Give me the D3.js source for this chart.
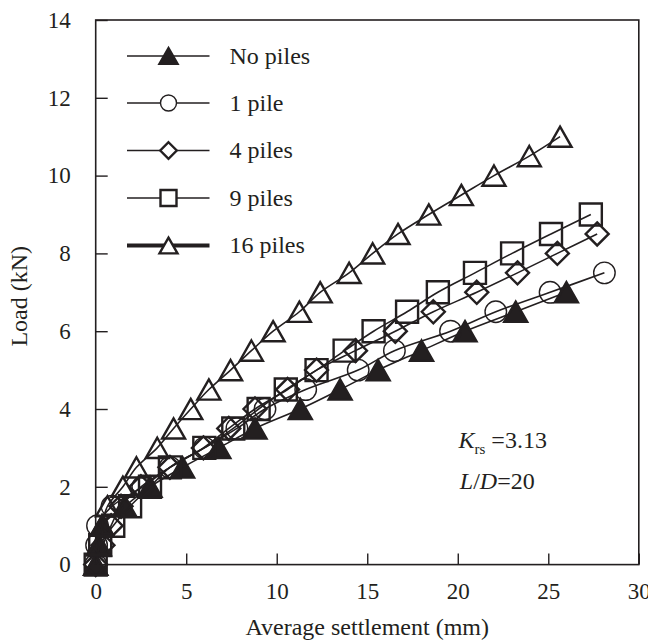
<!DOCTYPE html>
<html>
<head>
<meta charset="utf-8">
<script src="https://cdn.jsdelivr.net/npm/d3@7"></script>
<style>
  html, body { margin: 0; padding: 0; background: #fff; }
  svg { display: block; }
  text { font-family: "Liberation Serif", "Times New Roman", serif; fill: #231f20; }
</style>
</head>
<body>
<svg id="chart" width="648" height="640"></svg>
<script>
// Load–settlement measurements (load in kN, average settlement in mm)
const loadNoPiles = [0, 0.5, 1, 1.5, 2, 2.5, 3, 3.5, 4, 4.5, 5, 5.5, 6, 6.5, 7];
const settleNoPiles = [0, 0.15, 0.35, 1.6, 3.0, 4.8, 6.8, 8.8, 11.3, 13.5, 15.6, 18.0, 20.4, 23.2, 26.0];

const load1Pile = [0, 0.5, 1, 1.5, 2, 2.5, 3, 3.5, 4, 4.5, 5, 5.5, 6, 6.5, 7, 7.5];
const settle1Pile = [0, 0.05, 0.1, 0.9, 2.6, 4.1, 6.0, 7.8, 9.35, 11.6, 14.5, 16.5, 19.6, 22.1, 25.1, 28.1];

const load4Piles = [0, 0.5, 1, 1.5, 2, 2.5, 3, 3.5, 4, 4.5, 5, 5.5, 6, 6.5, 7, 7.5, 8, 8.5];
const settle4Piles = [0, 0.4, 0.85, 1.4, 2.5, 4.1, 5.95, 7.35, 8.8, 10.6, 12.2, 14.35, 16.55, 18.65, 21.05, 23.3, 25.5, 27.7];

const load9Piles = [0, 0.5, 1, 1.5, 2, 2.5, 3, 3.5, 4, 4.5, 5, 5.5, 6, 6.5, 7, 7.5, 8, 8.5, 9];
const settle9Piles = [0, 0.25, 0.97, 1.9, 3.0, 4.1, 6.0, 7.6, 9.0, 10.5, 12.2, 13.75, 15.35, 17.2, 18.9, 20.95, 23.0, 25.15, 27.35];

const load16Piles = [0, 0.5, 1, 1.5, 2, 2.5, 3, 3.5, 4, 4.5, 5, 5.5, 6, 6.5, 7, 7.5, 8, 8.5, 9, 9.5, 10, 10.5, 11];
const settle16Piles = [0, 0.2, 0.35, 0.65, 1.5, 2.25, 3.4, 4.3, 5.25, 6.25, 7.45, 8.6, 9.8, 11.25, 12.4, 14.0, 15.3, 16.7, 18.4, 20.2, 22.0, 23.95, 25.65];

const seriesNames = ["No piles", "1 pile", "4 piles", "9 piles", "16 piles"];
const xTickValues = [0, 5, 10, 15, 20, 25, 30];
const yTickValues = [0, 2, 4, 6, 8, 10, 12, 14];

const series = [
  { name: seriesNames[0], marker: "triFilled", x: settleNoPiles, y: loadNoPiles },
  { name: seriesNames[1], marker: "circle",    x: settle1Pile,   y: load1Pile },
  { name: seriesNames[2], marker: "diamond",   x: settle4Piles,  y: load4Piles },
  { name: seriesNames[3], marker: "square",    x: settle9Piles,  y: load9Piles },
  { name: seriesNames[4], marker: "triOpen",   x: settle16Piles, y: load16Piles }
];

const svg = d3.select("#chart");
const ink = "#231f20";

// Plot frame
const plotLeft = 95.7, plotRight = 638.8, plotTop = 20, plotBottom = 564.6;
const x = d3.scaleLinear().domain([0, 30]).range([plotLeft, plotRight]);
const y = d3.scaleLinear().domain([0, 14]).range([plotBottom, plotTop]);

// Marker path generators; s = overall size in px
function markerPath(type, s) {
  const h = s / 2;
  switch (type) {
    case "triFilled":
    case "triOpen": {
      const hh = s * 0.44;
      return `M0,${-hh}L${h},${hh}L${-h},${hh}Z`;
    }
    case "square":
      return `M${-h},${-h}H${h}V${h}H${-h}Z`;
    case "diamond":
      return `M0,${-h}L${h},0L0,${h}L${-h},0Z`;
    case "circle":
      return d3.arc()({ innerRadius: 0, outerRadius: h, startAngle: 0, endAngle: 2 * Math.PI });
  }
}
function markerStyle(sel, type) {
  sel.attr("fill", type === "triFilled" ? ink : "none")
     .attr("stroke", ink)
     .attr("stroke-width", type === "circle" ? 1.4 : 2.4)
     .attr("stroke-linejoin", "miter");
}
const dataSize = { triFilled: 23, triOpen: 23, square: 22, diamond: 23, circle: 21.5 };
const legendSize = { triFilled: 18, triOpen: 18, square: 16, diamond: 16.5, circle: 16 };

// Axes with inward ticks
const xAxis = d3.axisBottom(x).tickValues(xTickValues).tickSizeInner(-11).tickSizeOuter(0).tickPadding(18.5).tickFormat(d3.format("d"));
const yAxis = d3.axisLeft(y).tickValues(yTickValues).tickSizeInner(-12).tickSizeOuter(0).tickPadding(25).tickFormat(d3.format("d"));

const gx = svg.append("g").attr("transform", `translate(0,${plotBottom})`).call(xAxis);
const gy = svg.append("g").attr("transform", `translate(${plotLeft},0)`).call(yAxis);
[gx, gy].forEach(g => {
  g.select(".domain").remove();
  g.selectAll(".tick line").attr("stroke", ink).attr("stroke-width", 1.4);
  g.selectAll(".tick text").attr("font-size", 23).attr("fill", ink)
    .style("font-family", "'Liberation Serif', serif");
});

svg.append("rect")
  .attr("x", plotLeft).attr("y", plotTop)
  .attr("width", plotRight - plotLeft).attr("height", plotBottom - plotTop)
  .attr("fill", "none").attr("stroke", ink).attr("stroke-width", 1.6);

// Series: line then markers
const line = d3.line().x(d => x(d[0])).y(d => y(d[1])).curve(d3.curveCatmullRom.alpha(0.5));
series.forEach(s => {
  const pts = s.x.map((v, i) => [v, s.y[i]]);
  const g = svg.append("g");
  g.append("path").datum(pts)
    .attr("d", line).attr("fill", "none").attr("stroke", ink).attr("stroke-width", 1.6);
  g.selectAll("path.m").data(pts).join("path")
    .attr("class", "m")
    .attr("transform", d => `translate(${x(d[0])},${y(d[1])})`)
    .attr("d", markerPath(s.marker, dataSize[s.marker]))
    .call(markerStyle, s.marker);
});

// Legend
const legendY = [56, 103, 150.5, 198, 245.5];
const legend = svg.append("g");
series.forEach((s, i) => {
  const ly = legendY[i];
  legend.append("line")
    .attr("x1", 127).attr("x2", 209.5).attr("y1", ly).attr("y2", ly)
    .attr("stroke", ink).attr("stroke-width", i === 4 ? 4.2 : 1.6);
  legend.append("path")
    .attr("transform", `translate(168.5,${ly})`)
    .attr("d", markerPath(s.marker, legendSize[s.marker]))
    .call(markerStyle, s.marker)
    .attr("fill", s.marker === "triFilled" ? ink : "#fff");
  legend.append("text")
    .attr("x", 229.5).attr("y", ly).attr("dy", "0.33em")
    .attr("font-size", 24).text(s.name);
});

// Axis titles
svg.append("text")
  .attr("x", (plotLeft + plotRight) / 2).attr("y", 635)
  .attr("text-anchor", "middle").attr("font-size", 24)
  .text("Average settlement (mm)");
svg.append("text")
  .attr("transform", `translate(27,${(plotTop + plotBottom) / 2 + 4}) rotate(-90)`)
  .attr("text-anchor", "middle").attr("font-size", 24)
  .text("Load (kN)");

// Test parameters
const t1 = svg.append("text").attr("x", 458.5).attr("y", 448).attr("font-size", 24);
t1.append("tspan").attr("font-style", "italic").text("K");
t1.append("tspan").attr("font-size", 15).attr("dy", 6).text("rs");
t1.append("tspan").attr("dy", -6).text(" =3.13");

const t2 = svg.append("text").attr("x", 459.8).attr("y", 489).attr("font-size", 24);
t2.append("tspan").attr("font-style", "italic").text("L");
t2.append("tspan").text("/");
t2.append("tspan").attr("font-style", "italic").text("D");
t2.append("tspan").text("=20");
</script>
</body>
</html>
